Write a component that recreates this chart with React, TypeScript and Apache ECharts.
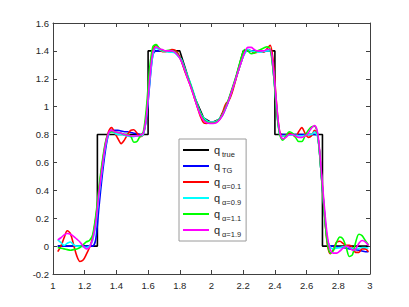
import React, { useEffect, useRef } from "react";
import * as echarts from "echarts";

const xs = [
  1.03, 1.05, 1.07, 1.09, 1.11, 1.13, 1.15, 1.17, 1.19, 1.21,
  1.23, 1.25, 1.27, 1.29, 1.31, 1.33, 1.35, 1.37, 1.39, 1.41,
  1.43, 1.45, 1.47, 1.49, 1.51, 1.53, 1.55, 1.57, 1.59, 1.61,
  1.63, 1.65, 1.67, 1.69, 1.71, 1.73, 1.75, 1.77, 1.79, 1.81,
  1.83, 1.85, 1.87, 1.89, 1.91, 1.93, 1.95, 1.97, 1.99, 2.01,
  2.03, 2.05, 2.07, 2.09, 2.11, 2.13, 2.15, 2.17, 2.19, 2.21,
  2.23, 2.25, 2.27, 2.29, 2.31, 2.33, 2.35, 2.37, 2.39, 2.41,
  2.43, 2.45, 2.47, 2.49, 2.51, 2.53, 2.55, 2.57, 2.59, 2.61,
  2.63, 2.65, 2.67, 2.69, 2.71, 2.73, 2.75, 2.77, 2.79, 2.81,
  2.83, 2.85, 2.87, 2.89, 2.91, 2.93, 2.95, 2.97, 2.99,
];

const trueX = [1.03, 1.28, 1.28, 1.6, 1.6, 1.8, 1.85, 1.9, 1.95, 2.0, 2.05, 2.1, 2.15, 2.2, 2.4, 2.4, 2.7, 2.7, 2.99];
const trueY = [0, 0, 0.8, 0.8, 1.4, 1.4, 1.22, 1.05, 0.92, 0.885, 0.91, 1.02, 1.19, 1.4, 1.4, 0.8, 0.8, 0, 0];

const qTG = [
  0, 0, 0, 0, 0, 0, 0, 0, 0, 0,
  0, 0, 0.05, 0.28, 0.5, 0.68, 0.8, 0.83, 0.83, 0.83,
  0.825, 0.82, 0.82, 0.815, 0.81, 0.805, 0.8, 0.81, 0.92, 1.16,
  1.37, 1.4, 1.4, 1.4, 1.4, 1.4, 1.4, 1.39, 1.37, 1.33,
  1.27, 1.21, 1.15, 1.08, 1.01, 0.95, 0.91, 0.89, 0.885, 0.885,
  0.89, 0.91, 0.94, 0.99, 1.05, 1.12, 1.19, 1.26, 1.33, 1.39,
  1.4, 1.4, 1.4, 1.4, 1.4, 1.4, 1.4, 1.4, 1.25, 1.0,
  0.81, 0.8, 0.8, 0.8, 0.8, 0.8, 0.8, 0.8, 0.8, 0.8,
  0.8, 0.8, 0.79, 0.55, 0.27, 0.05, 0, 0, -0.005, -0.01,
  -0.01, -0.015, -0.02, -0.02, -0.025, -0.03, -0.035, -0.04, -0.04,
];

const qA01 = [
  -0.04, 0, 0.06, 0.11, 0.09, 0.01, -0.07, -0.11, -0.1, -0.06,
  -0.01, 0.06, 0.2, 0.4, 0.58, 0.73, 0.82, 0.85, 0.81, 0.77,
  0.735, 0.76, 0.8, 0.83, 0.835, 0.81, 0.785, 0.8, 0.95, 1.22,
  1.4, 1.445, 1.41, 1.395, 1.395, 1.4, 1.41, 1.405, 1.38, 1.33,
  1.26, 1.2, 1.14, 1.07, 1.0, 0.93, 0.885, 0.88, 0.89, 0.89,
  0.895, 0.91, 0.96, 1.02, 1.045, 1.1, 1.18, 1.26, 1.33, 1.39,
  1.41, 1.4, 1.385, 1.39, 1.395, 1.39, 1.415, 1.44, 1.32, 1.03,
  0.82, 0.79, 0.795, 0.81, 0.8, 0.785, 0.82, 0.85, 0.81, 0.78,
  0.79, 0.83, 0.79, 0.56, 0.28, 0.02, -0.055, -0.02, 0.03, 0.035,
  0.02, 0.005, 0.005, -0.01, -0.045, -0.045, -0.02, -0.02, -0.04,
];

const qA09 = [
  0.045, 0.025, 0.005, 0.02, 0.03, 0.01, 0, 0, -0.005, -0.01,
  0, 0.04, 0.15, 0.36, 0.55, 0.71, 0.8, 0.82, 0.81, 0.8,
  0.8, 0.795, 0.79, 0.785, 0.785, 0.79, 0.79, 0.8, 0.93, 1.18,
  1.37, 1.42, 1.41, 1.4, 1.395, 1.39, 1.39, 1.385, 1.36, 1.34,
  1.28, 1.22, 1.16, 1.09, 1.02, 0.96, 0.92, 0.9, 0.89, 0.89,
  0.895, 0.915, 0.945, 0.99, 1.05, 1.12, 1.19, 1.26, 1.33, 1.38,
  1.41, 1.4, 1.395, 1.39, 1.39, 1.395, 1.4, 1.4, 1.26, 1.0,
  0.8, 0.79, 0.79, 0.795, 0.795, 0.795, 0.79, 0.79, 0.795, 0.8,
  0.8, 0.82, 0.78, 0.55, 0.28, 0.05, -0.01, -0.02, -0.015, -0.01,
  -0.005, -0.01, -0.01, -0.015, -0.02, -0.015, -0.01, -0.01, -0.015,
];

const qA11 = [
  -0.01, -0.015, -0.02, -0.025, -0.03, -0.025, -0.02, -0.01, 0.01, 0.03,
  0.04, 0.08, 0.22, 0.42, 0.6, 0.74, 0.81, 0.82, 0.82, 0.815,
  0.81, 0.8, 0.8, 0.79, 0.745, 0.75, 0.79, 0.82, 1.0, 1.28,
  1.43, 1.445, 1.42, 1.405, 1.4, 1.405, 1.4, 1.395, 1.37, 1.33,
  1.27, 1.21, 1.15, 1.08, 1.01, 0.95, 0.91, 0.89, 0.885, 0.885,
  0.89, 0.91, 0.945, 1.0, 1.06, 1.13, 1.2, 1.28, 1.36, 1.41,
  1.4, 1.38, 1.385, 1.4, 1.41, 1.42, 1.43, 1.41, 1.25, 0.98,
  0.8, 0.76, 0.79, 0.82, 0.81, 0.78, 0.75, 0.75, 0.79, 0.83,
  0.855, 0.86, 0.8, 0.55, 0.26, 0.03, -0.05, -0.03, 0.03, 0.065,
  0.05, -0.01, -0.075, -0.06, 0.03, 0.085, 0.075, 0.04, 0.01,
];

const qA19 = [
  0.045, 0.06, 0.08, 0.09, 0.085, 0.07, 0.05, 0.03, 0, -0.02,
  -0.01, 0.05, 0.17, 0.38, 0.56, 0.72, 0.81, 0.83, 0.82, 0.815,
  0.81, 0.8, 0.795, 0.79, 0.79, 0.79, 0.795, 0.81, 0.94, 1.2,
  1.39, 1.43, 1.415, 1.41, 1.4, 1.4, 1.4, 1.39, 1.365, 1.325,
  1.265, 1.2, 1.14, 1.07, 1.0, 0.94, 0.9, 0.885, 0.88, 0.88,
  0.885, 0.905, 0.94, 0.99, 1.05, 1.12, 1.19, 1.26, 1.33, 1.39,
  1.425, 1.425, 1.41, 1.4, 1.4, 1.4, 1.41, 1.41, 1.28, 1.02,
  0.82, 0.77, 0.78, 0.8, 0.8, 0.79, 0.78, 0.78, 0.79, 0.81,
  0.845, 0.865, 0.81, 0.58, 0.31, 0.08, -0.03, -0.05, -0.05, -0.035,
  -0.015, 0, -0.01, -0.03, -0.02, 0.02, 0.04, 0.03, 0.005,
];

const seriesNames = ["true", "TG", "α=0.1", "α=0.9", "α=1.1", "α=1.9"];
const seriesColors = ["#000000", "#0000ff", "#ff0000", "#00ffff", "#00ff00", "#ff00ff"];

const FONT = "'Liberation Sans', Arial, Helvetica, sans-serif";
const AXIS_COLOR = "#404040";
const TEXT_COLOR = "#262626";

// legend layout
const LEG_LEFT = 179;
const LEG_TOP = 139;
const LEG_ROW = 16;
const LEG_FIRST_LINE_Y = 150;

export default function App() {
  const ref = useRef<HTMLDivElement>(null);
  useEffect(() => {
    if (!ref.current) return;
    const chart = echarts.init(ref.current, undefined, { renderer: "svg" });
    const smoothData = [qTG, qA01, qA09, qA11, qA19].map((arr) => xs.map((x, i) => [x, arr[i]]));
    const trueData = trueX.map((x, i) => [x, trueY[i]]);
    const allData = [trueData, ...smoothData];

    const axisCommon = {
      type: "value" as const,
      axisLine: { show: true, onZero: false, lineStyle: { color: AXIS_COLOR, width: 1 } },
      axisTick: { show: true, inside: true, length: 4, lineStyle: { color: AXIS_COLOR, width: 1 } },
      splitLine: { show: false },
    };

    const subscripts = seriesNames.map((name, k) => ({
      type: "text",
      x: 222,
      y: LEG_FIRST_LINE_Y + LEG_ROW * k + 4,
      z: 100,
      style: {
        text: name,
        fontSize: 7.5,
        fontFamily: FONT,
        fill: TEXT_COLOR,
        verticalAlign: "middle",
        align: "left",
      },
    }));

    chart.setOption({
      animation: false,
      backgroundColor: "#ffffff",
      grid: { left: 53, right: 39, top: 23, bottom: 33, containLabel: false },
      xAxis: [
        {
          ...axisCommon,
          position: "bottom",
          min: 1,
          max: 3,
          interval: 0.2,
          axisLabel: { color: TEXT_COLOR, fontSize: 9.5, fontFamily: FONT, margin: 6 },
        },
        {
          ...axisCommon,
          position: "top",
          min: 1,
          max: 3,
          interval: 0.2,
          axisLabel: { show: false },
        },
      ],
      yAxis: [
        {
          ...axisCommon,
          position: "left",
          min: -0.2,
          max: 1.6,
          interval: 0.2,
          axisLabel: { color: TEXT_COLOR, fontSize: 9.5, fontFamily: FONT, margin: 4 },
        },
        {
          ...axisCommon,
          position: "right",
          min: -0.2,
          max: 1.6,
          interval: 0.2,
          axisLabel: { show: false },
        },
      ],
      legend: {
        orient: "vertical",
        left: LEG_LEFT,
        top: LEG_TOP,
        padding: [0, 26, 0, 4],
        itemGap: -6,
        itemWidth: 26,
        itemHeight: 2,
        icon: "rect",
        backgroundColor: "#ffffff",
        borderColor: "#9a9a9a",
        borderWidth: 1,
        borderRadius: 0,
        data: seriesNames,
        formatter: () => "q",
        textStyle: {
          fontFamily: FONT,
          fontSize: 11,
          fontWeight: "normal",
          lineHeight: LEG_ROW,
          color: TEXT_COLOR,
          padding: [0, 0, 6, 0],
        },
      },
      graphic: subscripts,
      series: seriesNames.map((name, i) => ({
        name,
        type: "line",
        xAxisIndex: 0,
        yAxisIndex: 0,
        data: allData[i],
        showSymbol: false,
        symbol: "none",
        smooth: i === 0 ? false : 0.3,
        color: seriesColors[i],
        lineStyle: { color: seriesColors[i], width: 1.6 },
        z: 2 + i,
      })),
    });
    return () => chart.dispose();
  }, []);

  return (
    <div
      ref={ref}
      style={{ position: "fixed", left: 0, top: 0, width: 409, height: 307, background: "#fff" }}
    />
  );
}
